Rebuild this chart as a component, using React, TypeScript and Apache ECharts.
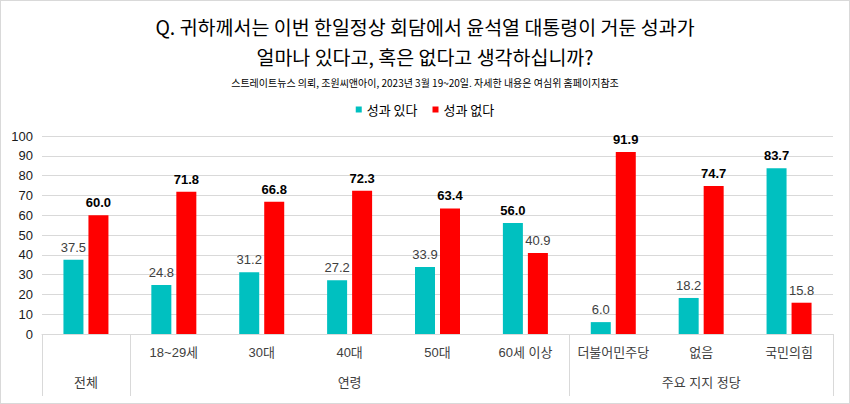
import React, { useEffect, useRef } from "react";
import * as echarts from "echarts";

const categories = ["전체", "18~29세", "30대", "40대", "50대", "60세 이상", "더불어민주당", "없음", "국민의힘"];
const groupNames = ["전체", "연령", "주요 지지 정당"];
const groupSpans = [1, 5, 3];
const seriesNames = ["성과 있다", "성과 없다"];
const haveValues = [37.5, 24.8, 31.2, 27.2, 33.9, 56.0, 6.0, 18.2, 83.7];
const notHaveValues = [60.0, 71.8, 66.8, 72.3, 63.4, 40.9, 91.9, 74.7, 15.8];
const yTicks = { min: 0, max: 100, interval: 10 };

const titleText = "Q. 귀하께서는 이번 한일정상 회담에서 윤석열 대통령이 거둔 성과가\n얼마나 있다고, 혹은 없다고 생각하십니까?";
const subText = "스트레이트뉴스 의뢰, 조원씨앤아이, 2023년 3월 19~20일. 자세한 내용은 여심위 홈페이지참조";

const FONT = "'Liberation Sans', 'Noto Sans CJK KR', sans-serif";
const KFONT = "'Noto Sans CJK KR', sans-serif";

export default function App() {
  const ref = useRef<HTMLDivElement>(null);
  useEffect(() => {
    if (!ref.current) return;
    const chart = echarts.init(ref.current, null, { renderer: "svg" });

    // group labels placed on the middle category of each group; boundaries at group starts
    const groupLabelData: string[] = new Array(categories.length).fill("");
    const boundaries = new Set<number>();
    const hiddenFirstLevel = new Set<number>();
    let start = 0;
    groupSpans.forEach((span, gi) => {
      boundaries.add(start);
      groupLabelData[start + Math.floor((span - 1) / 2)] = groupNames[gi];
      if (span === 1 && categories[start] === groupNames[gi]) hiddenFirstLevel.add(start);
      start += span;
    });

    const makeData = (vals: number[], other: number[]) =>
      vals.map((v, i) => {
        const bold = v > other[i];
        return {
          value: v,
          label: {
            fontWeight: bold ? "bold" : "normal",
            color: bold ? "#000000" : "#404040",
          },
        };
      });

    chart.setOption({
      animation: false,
      textStyle: { fontFamily: FONT },
      title: [
        {
          text: titleText,
          left: "center",
          top: 6,
          textStyle: { fontFamily: KFONT, fontSize: 19.5, fontWeight: "normal", color: "#000", lineHeight: 30 },
        },
        {
          text: subText,
          left: "center",
          top: 71,
          textStyle: { fontFamily: KFONT, fontSize: 10, fontWeight: "normal", color: "#000", lineHeight: 12 },
        },
      ],
      legend: {
        top: 98,
        left: "center",
        icon: "rect",
        itemWidth: 6,
        itemHeight: 6,
        itemGap: 15,
        textStyle: { fontFamily: KFONT, fontSize: 13, color: "#000" },
        data: seriesNames,
      },
      grid: { left: 42, right: 17, top: 136, bottom: 70, containLabel: false },
      xAxis: [
        {
          type: "category",
          data: categories,
          axisLine: { show: true, lineStyle: { color: "#d9d9d9" } },
          axisTick: {
            show: true,
            interval: (i: number) => boundaries.has(i),
            length: 62,
            lineStyle: { color: "#d9d9d9" },
          },
          axisLabel: {
            interval: 0,
            margin: 12,
            fontSize: 13,
            color: "#404040",
            fontFamily: FONT,
            formatter: (v: string, i: number) => (hiddenFirstLevel.has(i) ? "" : v),
          },
        },
        {
          type: "category",
          data: groupLabelData,
          position: "bottom",
          axisLine: { show: false },
          axisTick: { show: false },
          axisLabel: { interval: 0, margin: 42, fontSize: 13, color: "#404040", fontFamily: FONT },
        },
      ],
      yAxis: {
        type: "value",
        min: yTicks.min,
        max: yTicks.max,
        interval: yTicks.interval,
        axisLine: { show: false },
        axisTick: { show: false },
        axisLabel: { fontSize: 13, color: "#1a1a1a", margin: 9 },
        splitLine: { lineStyle: { color: "#d9d9d9" } },
      },
      series: [
        {
          name: seriesNames[0],
          type: "bar",
          xAxisIndex: 0,
          barWidth: 20,
          barGap: "25%",
          itemStyle: { color: "#00C0C0" },
          label: {
            show: true,
            position: "top",
            distance: 6,
            fontSize: 13,
            formatter: (p: any) => Number(p.value).toFixed(1),
          },
          data: makeData(haveValues, notHaveValues),
        },
        {
          name: seriesNames[1],
          type: "bar",
          xAxisIndex: 0,
          barWidth: 20,
          barGap: "25%",
          itemStyle: { color: "#FF0000" },
          label: {
            show: true,
            position: "top",
            distance: 6,
            fontSize: 13,
            formatter: (p: any) => Number(p.value).toFixed(1),
          },
          data: makeData(notHaveValues, haveValues),
        },
      ],
    });
    return () => chart.dispose();
  }, []);

  return (
    <div style={{ position: "absolute", left: 0, top: 0, width: 850, height: 404, background: "#fff" }}>
      <div ref={ref} style={{ position: "absolute", left: 0, top: 0, width: 850, height: 404 }} />
      <div
        style={{
          position: "absolute",
          left: 0,
          top: 0,
          width: 850,
          height: 404,
          boxSizing: "border-box",
          border: "1px solid #d9d9d9",
          pointerEvents: "none",
        }}
      />
    </div>
  );
}
